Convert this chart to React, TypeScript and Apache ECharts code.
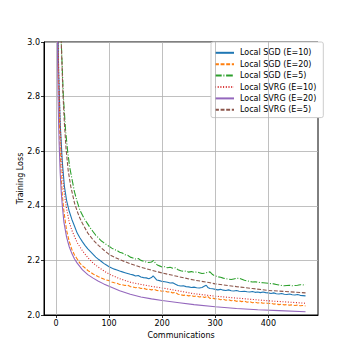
import React, { useEffect, useRef } from "react";
import * as echarts from "echarts";

const seriesNames = [
  "Local SGD (E=10)",
  "Local SGD (E=20)",
  "Local SGD (E=5)",
  "Local SVRG (E=10)",
  "Local SVRG (E=20)",
  "Local SVRG (E=5)",
];

const sgd10: [number, number][] = [
  [1, 3.8], [3, 3.15], [5, 2.9], [8, 2.7], [12, 2.56], [16, 2.47], [20, 2.42], [25, 2.38], [30, 2.35], [35, 2.325],
  [40, 2.3], [45, 2.283], [50, 2.268], [55, 2.254], [60, 2.242], [65, 2.232], [70, 2.222], [75, 2.212], [80, 2.204],
  [85, 2.197], [90, 2.189], [95, 2.183], [100, 2.177], [105, 2.172], [110, 2.168], [115, 2.165], [120, 2.161],
  [125, 2.158], [130, 2.155], [135, 2.152], [140, 2.149], [145, 2.147], [150, 2.143], [155, 2.145], [160, 2.139],
  [165, 2.137], [170, 2.136], [175, 2.133], [180, 2.137], [183, 2.143], [186, 2.137], [190, 2.128], [195, 2.126],
  [200, 2.123], [205, 2.122], [210, 2.12], [215, 2.117], [220, 2.118], [225, 2.113], [230, 2.108], [235, 2.106],
  [240, 2.107], [245, 2.104], [250, 2.103], [255, 2.101], [260, 2.102], [265, 2.1], [270, 2.099], [275, 2.101],
  [280, 2.106], [283, 2.109], [286, 2.101], [290, 2.097], [295, 2.096], [300, 2.094], [305, 2.092], [310, 2.094],
  [315, 2.091], [320, 2.09], [325, 2.092], [330, 2.089], [335, 2.088], [340, 2.09], [345, 2.087], [350, 2.086],
  [355, 2.087], [360, 2.085], [365, 2.084], [370, 2.086], [375, 2.083], [380, 2.084], [385, 2.082], [390, 2.084],
  [395, 2.082], [400, 2.081], [405, 2.079], [410, 2.081], [415, 2.078], [420, 2.077], [425, 2.079], [430, 2.076],
  [435, 2.075], [440, 2.077], [445, 2.074], [450, 2.073], [455, 2.075], [460, 2.072], [465, 2.071], [470, 2.07],
];

const sgd20: [number, number][] = [
  [1, 3.6], [3, 3.0], [5, 2.82], [6, 2.75], [8, 2.6], [10, 2.5], [12, 2.44], [15, 2.38], [20, 2.31], [25, 2.27],
  [30, 2.24], [35, 2.22], [40, 2.205], [45, 2.19], [50, 2.18], [55, 2.172], [60, 2.163], [65, 2.157], [70, 2.15],
  [75, 2.145], [80, 2.14], [85, 2.136], [90, 2.132], [95, 2.128], [100, 2.126], [105, 2.121], [110, 2.118],
  [115, 2.116], [120, 2.112], [125, 2.111], [130, 2.108], [135, 2.109], [140, 2.104], [145, 2.103], [150, 2.1],
  [155, 2.101], [160, 2.097], [165, 2.098], [170, 2.094], [175, 2.095], [180, 2.092], [185, 2.094], [190, 2.09],
  [195, 2.089], [200, 2.087], [205, 2.088], [210, 2.084], [215, 2.085], [220, 2.081], [225, 2.083], [230, 2.076],
  [235, 2.074], [240, 2.072], [245, 2.073], [250, 2.07], [255, 2.072], [260, 2.068], [265, 2.07], [270, 2.066],
  [275, 2.068], [280, 2.064], [285, 2.069], [290, 2.061], [295, 2.062], [300, 2.059], [305, 2.06], [310, 2.056],
  [315, 2.058], [320, 2.054], [325, 2.056], [330, 2.052], [335, 2.054], [340, 2.05], [345, 2.052], [350, 2.049],
  [355, 2.051], [360, 2.047], [365, 2.049], [370, 2.045], [375, 2.047], [380, 2.044], [385, 2.046], [390, 2.043],
  [395, 2.045], [400, 2.042], [405, 2.043], [410, 2.04], [415, 2.041], [420, 2.038], [425, 2.04], [430, 2.037],
  [435, 2.038], [440, 2.036], [445, 2.037], [450, 2.035], [455, 2.036], [460, 2.034], [465, 2.035], [470, 2.033],
];

const sgd5: [number, number][] = [
  [1, 4.0], [5, 3.4], [10, 3.0], [14, 2.8], [18, 2.68], [22, 2.6], [26, 2.54], [30, 2.5], [35, 2.45], [40, 2.415],
  [45, 2.385], [50, 2.365], [55, 2.348], [60, 2.333], [65, 2.318], [70, 2.305], [75, 2.292], [80, 2.283], [85, 2.272],
  [90, 2.265], [95, 2.258], [100, 2.252], [105, 2.245], [110, 2.24], [115, 2.236], [120, 2.23], [125, 2.227],
  [130, 2.221], [135, 2.219], [140, 2.212], [145, 2.209], [150, 2.205], [155, 2.207], [160, 2.2], [165, 2.197],
  [170, 2.194], [175, 2.192], [180, 2.194], [184, 2.2], [188, 2.188], [192, 2.182], [196, 2.179], [200, 2.176],
  [205, 2.177], [210, 2.173], [215, 2.175], [220, 2.171], [225, 2.173], [230, 2.166], [235, 2.162], [240, 2.16],
  [245, 2.161], [250, 2.157], [255, 2.159], [260, 2.156], [265, 2.158], [270, 2.155], [275, 2.152], [280, 2.153],
  [285, 2.156], [290, 2.158], [295, 2.148], [300, 2.143], [305, 2.14], [310, 2.138], [315, 2.135], [320, 2.133],
  [325, 2.131], [330, 2.13], [335, 2.132], [340, 2.134], [345, 2.135], [350, 2.131], [355, 2.127], [360, 2.125],
  [365, 2.123], [370, 2.121], [375, 2.122], [380, 2.12], [385, 2.119], [390, 2.118], [395, 2.117], [400, 2.116],
  [405, 2.115], [410, 2.114], [415, 2.112], [420, 2.11], [425, 2.108], [430, 2.107], [435, 2.108], [440, 2.109],
  [445, 2.107], [450, 2.108], [455, 2.109], [460, 2.111], [465, 2.11], [470, 2.112],
];

const svrg10: [number, number][] = [
  [1, 3.7], [3, 3.1], [4, 3.0], [5, 2.9], [7, 2.76], [10, 2.6], [13, 2.5], [16, 2.44], [20, 2.39], [25, 2.34],
  [30, 2.31], [40, 2.265], [50, 2.235], [60, 2.21], [70, 2.19], [80, 2.175], [90, 2.162], [100, 2.15], [120, 2.133],
  [140, 2.12], [160, 2.112], [180, 2.105], [200, 2.099], [232, 2.088], [260, 2.078], [300, 2.069], [340, 2.062],
  [400, 2.052], [440, 2.047], [470, 2.043],
];

const svrg20: [number, number][] = [
  [1, 3.6], [2, 3.2], [3, 2.95], [4, 2.8], [5, 2.7], [6, 2.63], [8, 2.52], [10, 2.45], [12, 2.4], [15, 2.34],
  [20, 2.285], [25, 2.25], [30, 2.225], [35, 2.205], [40, 2.19], [50, 2.165], [60, 2.148], [70, 2.135], [80, 2.124],
  [90, 2.114], [100, 2.105], [120, 2.089], [140, 2.076], [160, 2.066], [180, 2.059], [200, 2.053], [232, 2.045],
  [260, 2.038], [300, 2.03], [340, 2.024], [380, 2.019], [420, 2.016], [470, 2.012],
];

const svrg5: [number, number][] = [
  [1, 4.2], [5, 3.4], [8, 3.12], [10, 3.0], [13, 2.82], [16, 2.7], [19, 2.61], [23, 2.53], [28, 2.47], [35, 2.41],
  [40, 2.38], [45, 2.355], [50, 2.335], [60, 2.3], [70, 2.275], [80, 2.255], [90, 2.238], [100, 2.222], [110, 2.212],
  [120, 2.203], [140, 2.188], [160, 2.175], [180, 2.164], [200, 2.154], [232, 2.14], [260, 2.128], [288, 2.119],
  [300, 2.114], [340, 2.104], [370, 2.097], [400, 2.09], [440, 2.085], [470, 2.081],
];

const xTicks = [0, 100, 200, 300, 400];

export default function App() {
  const ref = useRef<HTMLDivElement>(null);
  useEffect(() => {
    if (!ref.current) return;
    const chart = echarts.init(ref.current, null, { renderer: "svg" });
    const font = "DejaVu Sans";
    const colors = ["#1f77b4", "#ff7f0e", "#2ca02c", "#d62728", "#9467bd", "#8c564b"];
    const dashes: any[] = ["solid", [3.9, 1.7], [6.7, 1.7, 1, 1.7], [1, 1.7], "solid", [3.9, 1.7]];
    const datas = [sgd10, sgd20, sgd5, svrg10, svrg20, svrg5];
    const gridSeries = {
      name: "__grid",
      type: "line",
      data: [],
      silent: true,
      z: 1,
      markLine: {
        silent: true,
        symbol: "none",
        label: { show: false },
        animation: false,
        lineStyle: { color: "#b0b0b0", width: 0.8, type: "solid" },
        data: xTicks.map((v) => ({ xAxis: v })),
      },
    };
    chart.setOption({
      animation: false,
      textStyle: { fontFamily: font },
      grid: {
        left: 44,
        right: 36,
        top: 42,
        bottom: 39,
        show: true,
        borderColor: "#000",
        borderWidth: 1,
        backgroundColor: "#fff",
      },
      legend: {
        orient: "vertical",
        left: 211,
        top: 42,
        itemWidth: 19,
        itemHeight: 8,
        itemGap: 1.8,
        padding: [6, 7, 3, 3],
        backgroundColor: "#fff",
        borderColor: "#cccccc",
        borderWidth: 1,
        borderRadius: 2,
        itemStyle: { opacity: 0 },
        textStyle: { fontFamily: font, fontSize: 8, color: "#000", padding: [0, 0, 0, 1], lineHeight: 9.6 },
        data: seriesNames,
      },
      xAxis: {
        type: "value",
        min: -22.5,
        max: 493.5,
        splitNumber: 4,
        name: "Communications",
        nameLocation: "middle",
        nameGap: 16,
        nameTextStyle: { fontFamily: font, fontSize: 8, color: "#000" },
        axisLine: { show: true, onZero: false, lineStyle: { color: "#000", width: 1 } },
        axisTick: { show: true, length: 3, customValues: xTicks, lineStyle: { color: "#000", width: 0.8 } },
        axisLabel: {
          fontFamily: font,
          fontSize: 8,
          color: "#000",
          margin: 4,
          customValues: xTicks,
          formatter: (v: number) => (xTicks.includes(v) ? String(v) : ""),
        },
        splitLine: { show: false },
      },
      yAxis: {
        type: "value",
        min: 2,
        max: 3,
        interval: 0.2,
        name: "Training Loss",
        nameLocation: "middle",
        nameGap: 20,
        nameMoveOverlap: false,
        nameTextStyle: { fontFamily: font, fontSize: 8, color: "#000" },
        axisLine: { show: true, onZero: false, lineStyle: { color: "#000", width: 1 } },
        axisTick: { show: true, length: 3, lineStyle: { color: "#000", width: 0.8 } },
        axisLabel: {
          fontFamily: font,
          fontSize: 8,
          color: "#000",
          margin: 4,
          formatter: (v: number) => v.toFixed(1),
        },
        splitLine: { show: true, lineStyle: { color: "#b0b0b0", width: 0.8 } },
      },
      series: [
        gridSeries,
        ...datas.map((d, i) => ({
          name: seriesNames[i],
          type: "line",
          data: d,
          symbol: "none",
          showSymbol: false,
          clip: true,
          z: 2,
          itemStyle: { color: colors[i] },
          lineStyle: { color: colors[i], width: 1.1, type: dashes[i] },
        })),
      ],
    });
    return () => chart.dispose();
  }, []);
  return (
    <div
      ref={ref}
      style={{ position: "fixed", left: 0, top: 0, width: 354, height: 354, background: "#fff" }}
    />
  );
}
